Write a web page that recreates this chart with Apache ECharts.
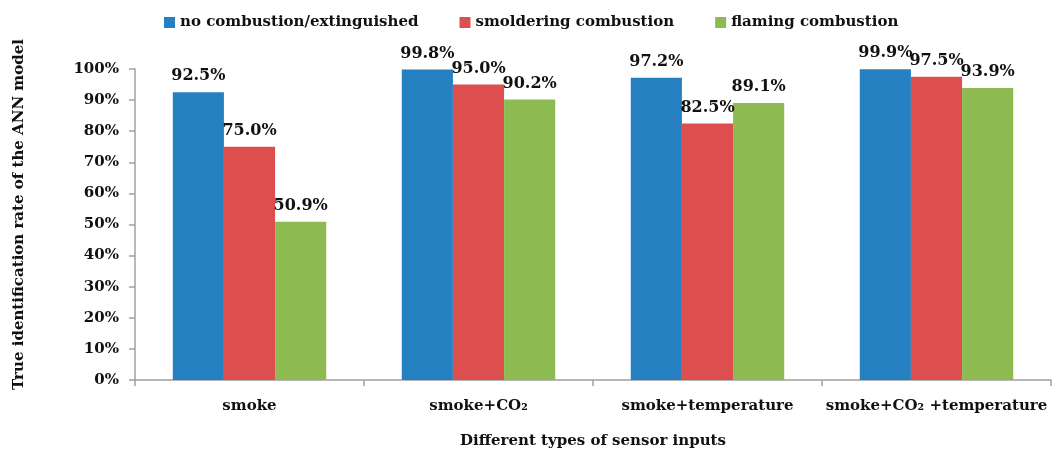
<!DOCTYPE html>
<html><head><meta charset="utf-8">
<script src="https://cdn.jsdelivr.net/npm/echarts@6/dist/echarts.min.js"></script>
<style>html,body{margin:0;padding:0;background:#fff}#c{width:1060px;height:452px}</style>
</head><body><div id="c"></div>
<script>
const categories = ['smoke', 'smoke+CO₂', 'smoke+temperature', 'smoke+CO₂ +temperature'];
const seriesNames = ['no combustion/extinguished', 'smoldering combustion', 'flaming combustion'];
const noCombustion = [92.5, 99.8, 97.2, 99.9];
const smoldering = [75.0, 95.0, 82.5, 97.5];
const flaming = [50.9, 90.2, 89.1, 93.9];
const yTicks = [0, 10, 20, 30, 40, 50, 60, 70, 80, 90, 100];

const colors = ['#2580c2', '#dd4f4f', '#8dbb51'];
const font = 'DejaVu Serif, serif';
const txt = {fontFamily: font, fontWeight: 'bold', fontSize: 15, color: '#111'};

const chart = echarts.init(document.getElementById('c'));
const vals = [noCombustion, smoldering, flaming];
chart.setOption({
  animation: false,
  color: colors,
  legend: {
    top: 10, left: 159, itemWidth: 11, itemHeight: 11, itemGap: 41,
    icon: 'rect',
    textStyle: txt,
    data: seriesNames
  },
  grid: {left: 135, right: 9, top: 69, bottom: 72, containLabel: false, outerBoundsMode: 'none'},
  xAxis: {
    type: 'category', data: categories,
    name: 'Different types of sensor inputs', nameLocation: 'middle', nameGap: 54,
    nameTextStyle: txt,
    axisLine: {lineStyle: {color: '#a0a0a0', width: 1.5}},
    axisTick: {show: true, length: 6, lineStyle: {color: '#a0a0a0', width: 1.5}},
    axisLabel: Object.assign({}, txt, {margin: 19, interval: 0})
  },
  yAxis: {
    type: 'value', min: 0, max: 100, interval: 10,
    name: 'True identification rate of the ANN model', nameLocation: 'middle', nameGap: 108,
    nameTextStyle: Object.assign({}, txt, {padding: [0, 0, 0, 20]}),
    axisLine: {show: true, lineStyle: {color: '#a0a0a0', width: 1.5}},
    axisTick: {show: true, length: 6, lineStyle: {color: '#a0a0a0', width: 1.5}},
    splitLine: {show: false},
    axisLabel: Object.assign({}, txt, {margin: 16, formatter: v => yTicks.includes(v) ? v + '%' : ''})
  },
  series: seriesNames.map((n, i) => ({
    name: n, type: 'bar', data: vals[i],
    barGap: '0%', barCategoryGap: '33%',
    label: {show: true, position: 'top', distance: 8, formatter: p => p.value.toFixed(1) + '%',
      fontFamily: font, fontWeight: 'bold', fontSize: 16, color: '#111'}
  }))
});
</script></body></html>
